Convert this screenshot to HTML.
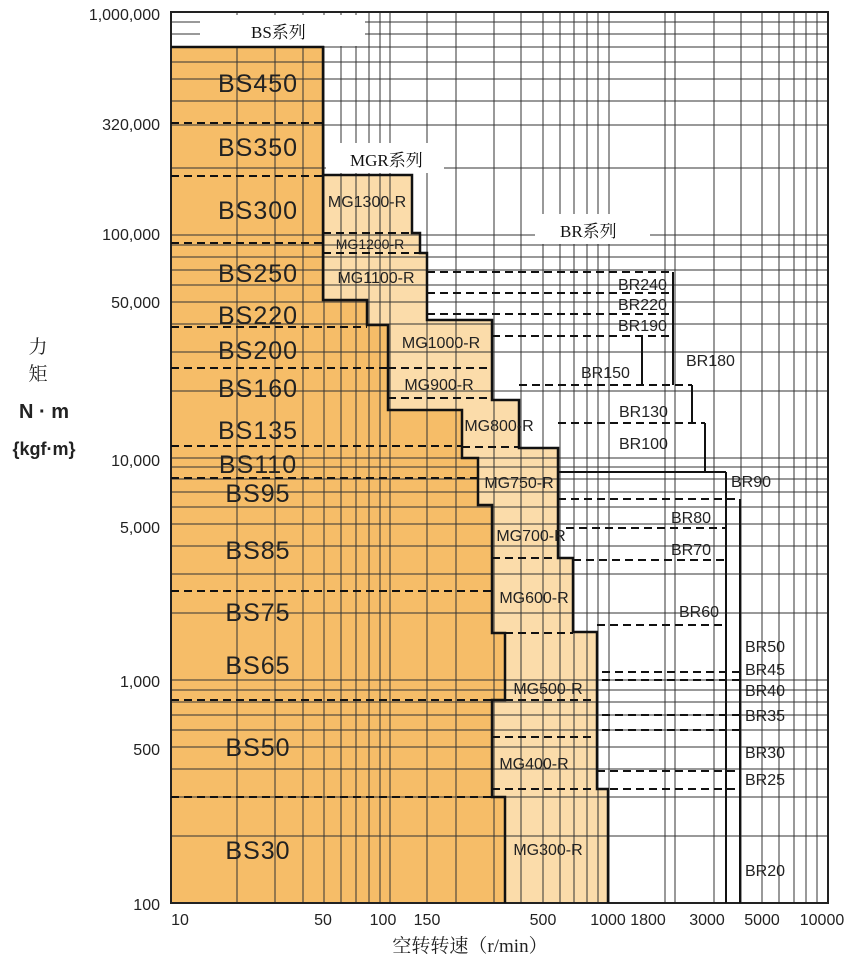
<!DOCTYPE html>
<html><head><meta charset="utf-8"><style>
body{margin:0;background:#fff;}
svg text{font-family:"Liberation Sans","Noto Sans CJK SC",sans-serif;}
</style></head><body>
<svg width="850" height="965" viewBox="0 0 850 965" xmlns="http://www.w3.org/2000/svg">
<rect width="850" height="965" fill="#fff"/>
<polygon fill="#fbdcaa" points="323,175 412,175 412,233 420,233 420,253 427,253 427,320 492,320 492,400 519,400 519,448 558,448 558,558 573,558 573,632 597,632 597,789 608,789 608,903 323,903"/>
<polygon fill="#f6bd68" points="171,47 323,47 323,300 367,300 367,325 388,325 388,410 462,410 462,458 478,458 478,505 492,505 492,633 505,633 505,700 492,700 492,797 505,797 505,903 171,903"/>
<path stroke="#333" stroke-width="1" fill="none" d="
M237,12V903 M275,12V903 M303,12V903 M324,12V903 M341,12V903 M356,12V903 M369,12V903 M380,12V903 M390,12V903 M427,12V903 M456,12V903 M494,12V903 M521,12V903 M543,12V903 M560,12V903 M574,12V903 M587,12V903 M598,12V903 M609,12V903 M665,12V903 M675,12V903 M714,12V903 M741,12V903 M762,12V903 M779,12V903 M794,12V903 M806,12V903 M817,12V903
M171,836H828 M171,797H828 M171,769H828 M171,747H828 M171,730H828 M171,715H828 M171,702H828 M171,690H828 M171,680H828
M171,613H828 M171,574H828 M171,546H828 M171,524H828 M171,507H828 M171,492H828 M171,479H828 M171,467H828 M171,458H828
M171,391H828 M171,352H828 M171,324H828 M171,302H828 M171,285H828 M171,270H828 M171,257H828 M171,245H828 M171,235H828
M171,168H828 M171,125H828 M171,101H828 M171,79H828 M171,62H828 M171,47H828 M171,34H828 M171,22H828"/>
<rect x="171" y="12" width="657" height="891" fill="none" stroke="#222" stroke-width="2"/>
<rect x="200" y="15" width="165" height="31" fill="#fff"/>
<rect x="326" y="143" width="118" height="30" fill="#fff"/>
<rect x="535" y="214" width="115" height="30" fill="#fff"/>
<polyline fill="none" stroke="#111" stroke-width="2.5" points="171,47 323,47 323,300 367,300 367,325 388,325 388,410 462,410 462,458 478,458 478,505 492,505 492,633 505,633 505,700 492,700 492,797 505,797 505,903"/>
<polyline fill="none" stroke="#111" stroke-width="2.5" points="323,175 412,175 412,233 420,233 420,253 427,253 427,320 492,320 492,400 519,400 519,448 558,448 558,558 573,558 573,632 597,632 597,789 608,789 608,903"/>
<path stroke="#111" stroke-width="2" fill="none" d="M673,272V385 M642,336V385 M692,385V423 M705,423V472 M558,472H726 M726,472V903 M740,499V903"/>
<path stroke="#111" stroke-width="2" fill="none" stroke-dasharray="8,5" d="
M171,123H323 M171,176H323 M171,243H323 M171,327H367 M171,368H388 M171,446H462 M171,478H478 M171,591H492 M171,700H492 M171,797H492
M323,233H412 M323,253H420 M388,368H492 M388,398H492 M462,447H519 M492,558H558 M492,633H573 M505,700H597 M492,737H597 M492,789H597
M427,272H673 M427,293H673 M427,314H673 M492,336H673 M519,385H692 M558,423H705 M558,499H740 M566,528H726 M573,560H726 M597,625H726
M602,672H740 M602,680H740 M602,715H740 M602,730H740 M597,771H740 M597,789H740"/>
<g font-size="17" fill="#111">
<text x="251" y="38" style="font-family:'Liberation Serif','Noto Serif CJK SC',serif">BS系列</text>
<text x="350" y="166" style="font-family:'Liberation Serif','Noto Serif CJK SC',serif">MGR系列</text>
<text x="560" y="237" style="font-family:'Liberation Serif','Noto Serif CJK SC',serif">BR系列</text>
</g>
<g font-size="25" fill="#222" text-anchor="middle" letter-spacing="1">
<text x="258" y="92">BS450</text><text x="258" y="156">BS350</text><text x="258" y="219">BS300</text>
<text x="258" y="282">BS250</text><text x="258" y="324">BS220</text><text x="258" y="359">BS200</text>
<text x="258" y="397">BS160</text><text x="258" y="439">BS135</text><text x="258" y="473">BS110</text>
<text x="258" y="502">BS95</text><text x="258" y="559">BS85</text><text x="258" y="621">BS75</text>
<text x="258" y="674">BS65</text><text x="258" y="756">BS50</text><text x="258" y="859">BS30</text>
</g>
<g font-size="16" fill="#222" text-anchor="middle">
<text x="367" y="207">MG1300-R</text><text x="370" y="249" font-size="14">MG1200-R</text>
<text x="376" y="283">MG1100-R</text><text x="441" y="348">MG1000-R</text><text x="439" y="390">MG900-R</text>
<text x="499" y="431">MG800-R</text><text x="519" y="488">MG750-R</text><text x="531" y="541">MG700-R</text>
<text x="534" y="603">MG600-R</text><text x="548" y="694">MG500-R</text><text x="534" y="769">MG400-R</text>
<text x="548" y="855">MG300-R</text>
</g>
<g font-size="16" fill="#222">
<text x="618" y="290">BR240</text><text x="618" y="310">BR220</text><text x="618" y="331">BR190</text>
<text x="581" y="378">BR150</text><text x="686" y="366">BR180</text><text x="619" y="417">BR130</text>
<text x="619" y="449">BR100</text><text x="731" y="487">BR90</text><text x="671" y="523">BR80</text>
<text x="671" y="555">BR70</text><text x="679" y="617">BR60</text>
<text x="745" y="652">BR50</text><text x="745" y="675">BR45</text><text x="745" y="696">BR40</text>
<text x="745" y="721">BR35</text><text x="745" y="758">BR30</text><text x="745" y="785">BR25</text>
<text x="745" y="876">BR20</text>
</g>
<g font-size="16" fill="#222" text-anchor="end">
<text x="160" y="20">1,000,000</text><text x="160" y="130">320,000</text><text x="160" y="240">100,000</text>
<text x="160" y="308">50,000</text><text x="160" y="466">10,000</text><text x="160" y="533">5,000</text>
<text x="160" y="687">1,000</text><text x="160" y="755">500</text><text x="160" y="910">100</text>
</g>
<g font-size="16" fill="#222" text-anchor="middle">
<text x="180" y="925">10</text><text x="323" y="925">50</text><text x="383" y="925">100</text>
<text x="427" y="925">150</text><text x="543" y="925">500</text><text x="608" y="925">1000</text>
<text x="648" y="925">1800</text><text x="707" y="925">3000</text><text x="762" y="925">5000</text>
<text x="822" y="925">10000</text>
</g>
<text x="470" y="952" font-size="19" text-anchor="middle" fill="#222" style="font-family:'Liberation Serif','Noto Serif CJK SC',serif">空转转速（r/min）</text>
<g fill="#222" text-anchor="middle">
<text x="38" y="353" font-size="19" style="font-family:'Noto Serif CJK SC',serif">力</text>
<text x="38" y="380" font-size="19" style="font-family:'Noto Serif CJK SC',serif">矩</text>
<text x="44" y="418" font-size="20" font-weight="bold">N · m</text>
<text x="44" y="455" font-size="18" font-weight="bold">{kgf·m}</text>
</g>
</svg>
</body></html>
